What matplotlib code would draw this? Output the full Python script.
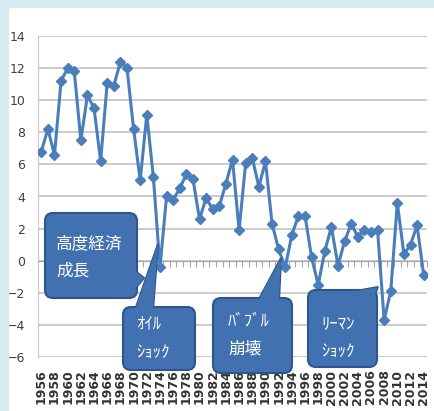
import numpy as np
import matplotlib
matplotlib.use('Agg')
from matplotlib import pyplot as plt
from matplotlib.patches import FancyBboxPatch, Polygon, Rectangle
from matplotlib.transforms import Affine2D

years = list(range(1956, 2015))
growth = [6.8, 8.2, 6.6, 11.2, 12.0, 11.8, 7.5, 10.3, 9.5, 6.2,
          11.1, 10.9, 12.4, 12.0, 8.2, 5.0, 9.1, 5.2, -0.4, 4.0,
          3.8, 4.5, 5.4, 5.1, 2.6, 3.9, 3.2, 3.4, 4.8, 6.3,
          1.9, 6.1, 6.4, 4.6, 6.2, 2.3, 0.7, -0.4, 1.6, 2.8,
          2.8, 0.2, -1.5, 0.6, 2.1, -0.3, 1.2, 2.3, 1.5, 1.9,
          1.8, 1.9, -3.7, -1.9, 3.6, 0.4, 1.0, 2.2, -0.9]
tick_years = years[::2]
y_ticks = list(range(-6, 15, 2))

callout_texts = ['高度経済\n成長', 'ｵｲﾙ\nｼｮｯｸ', 'ﾊﾞﾌﾞﾙ\n崩壊', 'ﾘｰﾏﾝ\nｼｮｯｸ']

W, H = 435, 411
fig = plt.figure(figsize=(W / 100, H / 100), dpi=100)
fig.patch.set_facecolor('white')
# light blue frame on top and left
fig.patches.append(Rectangle((0, 1 - 7 / H), 1, 7 / H, transform=fig.transFigure,
                             color='#d8ebf3', zorder=0))
fig.patches.append(Rectangle((0, 0), 8 / W, 1, transform=fig.transFigure,
                             color='#d8ebf3', zorder=0))

ax = fig.add_axes([38 / W, 1 - 357 / H, 389 / W, 321 / H])
ax.plot(years, growth, color='#4a7ebb', lw=2.2, marker='D', ms=5.5,
        mec='#4a7ebb', mfc='#4a7ebb', zorder=3)

ax.set_xlim(1955.5, 2014.5)
ax.set_ylim(-6, 14)
ax.set_yticks(y_ticks)
ax.yaxis.grid(True, color='#cbcbcb', lw=1.4)
ax.set_axisbelow(True)
ax.tick_params(axis='y', length=0, pad=9, labelsize=9, labelcolor='#404040')
for s in ['top', 'right']:
  ax.spines[s].set_visible(False)
ax.spines['left'].set_color('#c8c8c8')
ax.spines['bottom'].set_position(('data', 0))
ax.spines['bottom'].set_color('#a6a6a6')
ax.set_xticks(np.arange(1955.5, 2015, 1))
ax.tick_params(axis='x', length=4, color='#a6a6a6', labelbottom=False)

sec = ax.secondary_xaxis('bottom')
sec.set_xticks(tick_years, [str(y) for y in tick_years])
sec.tick_params(length=0, pad=9, labelsize=9, labelcolor='#333333', labelrotation=90)
for lab in sec.get_xticklabels():
  lab.set_fontweight('bold')
sec.spines['bottom'].set_visible(False)

# callouts, drawn in image pixel coordinates (origin top-left)
pix = Affine2D().scale(1 / W, -1 / H).translate(0, 1) + fig.transFigure
fc, ec = '#4271b1', '#2d568c'


def callout(box, tail, text, text_xy):
  x0, y0, x1, y1 = box
  ax.add_patch(Polygon(tail, closed=True, fc=fc, ec=ec, lw=1.5,
                       transform=pix, clip_on=False, zorder=5))
  ax.add_patch(FancyBboxPatch((x0, y0), x1 - x0, y1 - y0,
                              boxstyle='round,pad=0,rounding_size=8',
                              fc=fc, ec=ec, lw=1.5, transform=pix,
                              clip_on=False, zorder=6))
  ax.add_patch(Polygon(tail, closed=True, fc=fc, ec='none',
                       transform=pix, clip_on=False, zorder=7))
  ax.text(text_xy[0], text_xy[1], text, transform=pix, color='white',
          fontsize=12, linespacing=1.8, va='center', ha='left',
          family=['Noto Sans CJK JP', 'DejaVu Sans'], zorder=8)


callout((45, 213, 137, 298), [(134, 270), (144, 278), (134, 290)],
        callout_texts[0], (56, 257))
callout((123, 307, 195, 370), [(135, 310), (158, 244), (153, 310)],
        callout_texts[1], (136, 339))
callout((213, 298, 292, 373), [(258, 301), (281, 258), (279, 301)],
        callout_texts[2], (228, 335))
callout((308, 290, 377, 367), [(345, 293), (378, 287), (374, 296)],
        callout_texts[3], (321, 338))

fig.savefig('out.png', dpi=100)
